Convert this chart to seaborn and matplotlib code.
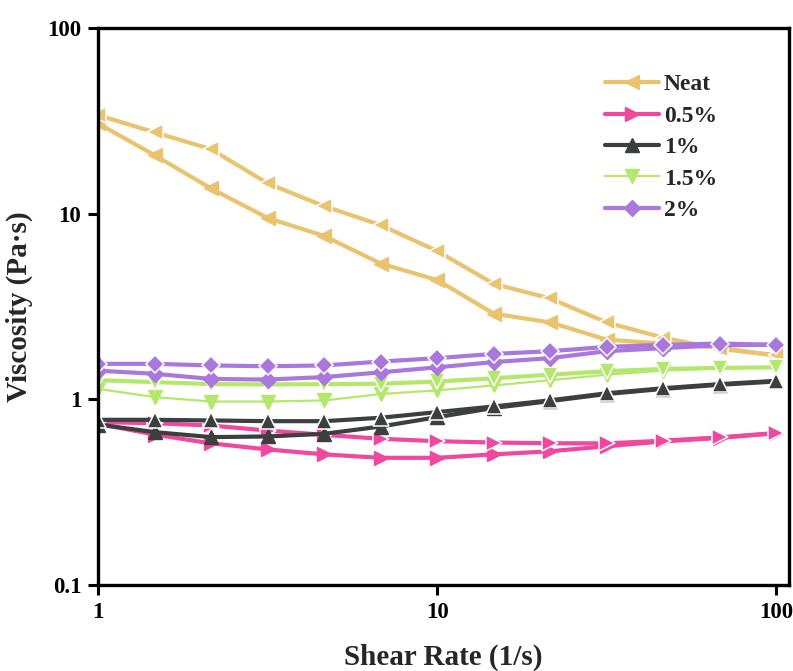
import numpy as np
import pandas as pd
import matplotlib
matplotlib.use("Agg")
import matplotlib.pyplot as plt
import seaborn as sns

sns.set_theme(style="ticks")
plt.rcParams["font.family"] = ["Liberation Serif", "DejaVu Serif"]
plt.rcParams["font.weight"] = "bold"

# Shear rate sweep points (1/s)
shear_rate = [1, 1.468, 2.154, 3.162, 4.642, 6.813, 10, 14.68, 21.54, 31.62, 46.42, 68.13, 100]

# Viscosity (Pa·s): first and second sweep of each sample
neat_a = [34.0, 27.5, 22.3, 14.6, 11.0, 8.7, 6.3, 4.2, 3.5, 2.6, 2.15, 1.87, 1.73]
neat_b = [30.7, 20.7, 13.7, 9.5, 7.6, 5.4, 4.4, 2.9, 2.6, 2.1, 2.0, 1.9, 1.72]

p05_a = [0.755, 0.745, 0.724, 0.68, 0.645, 0.614, 0.596, 0.586, 0.581, 0.58, 0.6, 0.625, 0.66]
p05_b = [0.74, 0.647, 0.58, 0.538, 0.506, 0.485, 0.485, 0.506, 0.526, 0.56, 0.594, 0.621, 0.658]

p1_a = [0.777, 0.777, 0.771, 0.764, 0.764, 0.797, 0.855, 0.917, 0.99, 1.08, 1.15, 1.21, 1.26]
p1_b = [0.733, 0.667, 0.627, 0.632, 0.653, 0.715, 0.803, 0.9, 0.98, 1.07, 1.14, 1.2, 1.25]

p15_a = [1.27, 1.24, 1.21, 1.205, 1.21, 1.215, 1.25, 1.30, 1.36, 1.42, 1.46, 1.48, 1.49]
p15_b = [1.14, 1.03, 0.975, 0.975, 0.988, 1.07, 1.12, 1.19, 1.27, 1.36, 1.43, 1.47, 1.49]

p2_a = [1.556, 1.556, 1.525, 1.51, 1.525, 1.6, 1.67, 1.76, 1.82, 1.92, 1.97, 2.0, 1.97]
p2_b = [1.43, 1.375, 1.29, 1.28, 1.32, 1.40, 1.49, 1.59, 1.67, 1.82, 1.89, 1.96, 1.97]

labels = ["Neat", "0.5%", "1%", "1.5%", "2%"]
colors = ["#E9C36E", "#F0479F", "#3D3F3F", "#B3E86C", "#AA78DC"]
markers = ["<", ">", "^", "v", "D"]
widths_a = [3.0, 3.0, 3.0, 3.0, 3.0]
widths_b = [3.0, 3.0, 3.0, 1.6, 3.0]
series = [(neat_a, neat_b), (p05_a, p05_b), (p1_a, p1_b), (p15_a, p15_b), (p2_a, p2_b)]

fig = plt.figure(figsize=(7.93, 6.71), dpi=100)
ax = fig.add_axes([0.1236, 0.128, 0.8714, 0.83])

for lab, col, mk, (ya, yb), wa, wb in zip(labels, colors, markers, series, widths_a, widths_b):
    ms = 10 if mk != "D" else 8.5
    sns.lineplot(x=shear_rate, y=yb, ax=ax, color=col, marker=mk, markersize=ms,
                 markeredgecolor=col, markeredgewidth=1, linewidth=wb,
                 estimator=None, sort=False, legend=False)
    # second sweep: markers carry a thin white rim so the line breaks around them
    sns.lineplot(x=shear_rate, y=ya, ax=ax, color=col, marker=mk, markersize=ms + 1,
                 markeredgecolor="white", markeredgewidth=1.1, linewidth=wa,
                 estimator=None, sort=False, legend=False)

# legend entries without the white rim
handles = [plt.Line2D([], [], color=c, marker=m, markersize=(10 if m != "D" else 8.5),
                      markeredgecolor=c, linewidth=(1.6 if l == "1.5%" else 3.0))
           for l, c, m in zip(labels, colors, markers)]

ax.set_xscale("log")
ax.set_yscale("log")
ax.set_xlim(1, 109)
ax.set_ylim(0.1, 100)
ax.set_xticks([1, 10, 100])
ax.set_xticklabels(["1", "10", "100"])
ax.set_yticks([0.1, 1, 10, 100])
ax.set_yticklabels(["0.1", "1", "10", "100"])
ax.minorticks_off()
ax.tick_params(axis="both", which="major", direction="out", length=7, width=2.2,
               labelsize=16.5, pad=5, colors="black")
for t in ax.get_xticklabels() + ax.get_yticklabels():
    t.set_fontweight("bold")
for sp in ax.spines.values():
    sp.set_linewidth(2.4)
    sp.set_color("black")
    sp.set_visible(True)

ax.set_xlabel("Shear Rate (1/s)", fontsize=21, fontweight="bold", labelpad=15)
ax.set_ylabel("Viscosity (Pa·s)", fontsize=21, fontweight="bold", labelpad=10)

ax.legend(handles, labels, loc="upper left", bbox_to_anchor=(0.72, 0.935),
          frameon=False, prop={"size": 17, "weight": "bold"}, handlelength=2.3,
          handletextpad=0.2, labelspacing=0.42, borderaxespad=0)

fig.savefig("out.png", dpi=100)
